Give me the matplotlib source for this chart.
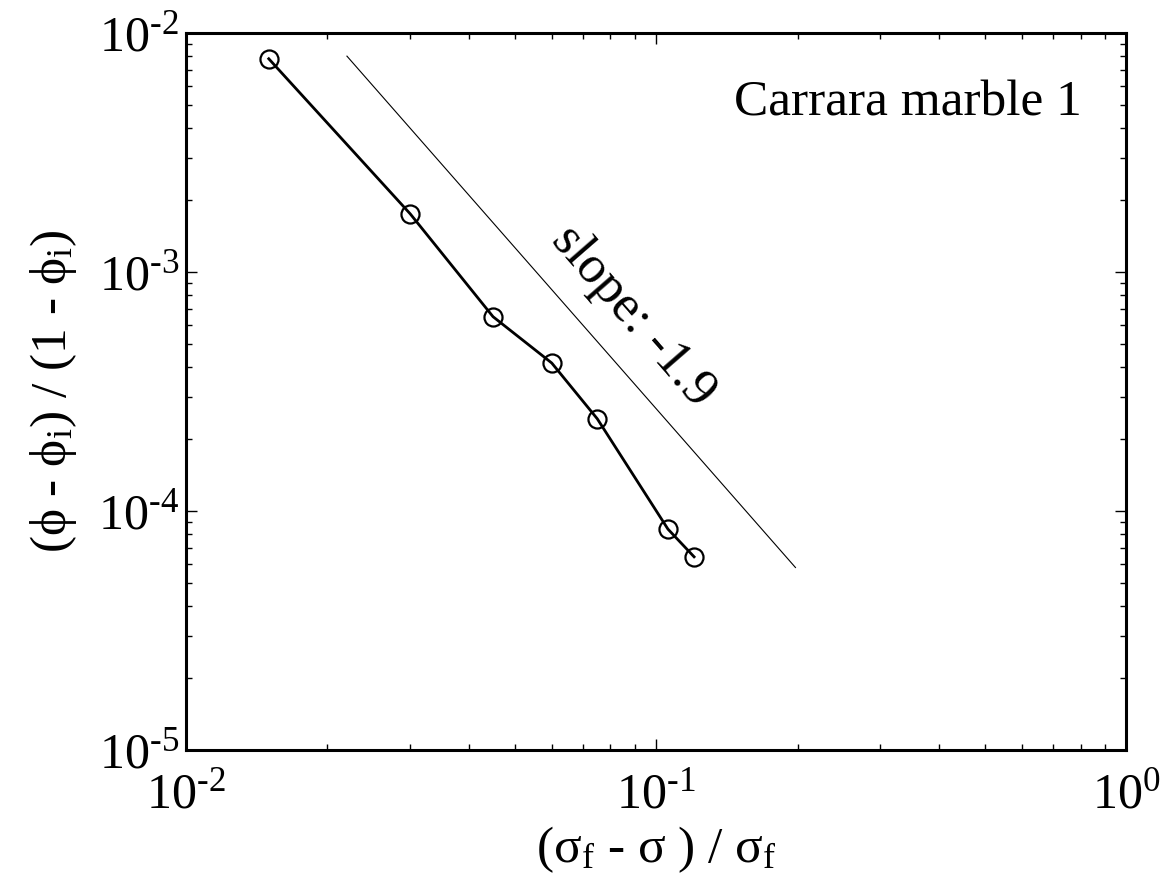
import numpy as np
import matplotlib
matplotlib.use("Agg")
import matplotlib.pyplot as plt
from matplotlib.ticker import FuncFormatter

plt.rcParams['font.family'] = ['Liberation Serif', 'DejaVu Serif']
plt.rcParams['mathtext.fontset'] = 'custom'
plt.rcParams['mathtext.rm'] = 'Liberation Serif'
plt.rcParams['mathtext.default'] = 'regular'
plt.rcParams['axes.unicode_minus'] = False

# measured points
strain = [0.015, 0.030, 0.045, 0.060, 0.075, 0.106, 0.1205]
porosity = [7.8e-3, 1.75e-3, 6.5e-4, 4.16e-4, 2.43e-4, 8.4e-5, 6.43e-5]

# reference slope line
ref_x = [0.022, 0.198]
ref_y = [8.0e-3, 5.8e-5]


def dec_label(v, pos):
    e = int(round(np.log10(v)))
    if e < 0:
        return '10$^{\u2010%d}$' % (-e)
    return '10$^{%d}$' % e


fig = plt.figure(figsize=(11.72, 8.84), dpi=100)
ax = fig.add_axes([0.1587, 0.1516, 0.8021, 0.8111])

ax.plot(strain, porosity, '-o', color='black', lw=2.0, ms=13,
        mfc='none', mew=1.6)
ax.plot(ref_x, ref_y, '-', color='black', lw=0.8)

ax.set_xscale('log')
ax.set_yscale('log')
ax.set_xlim(1e-2, 1e0)
ax.set_ylim(1e-5, 1e-2)
ax.xaxis.set_major_formatter(FuncFormatter(dec_label))
ax.yaxis.set_major_formatter(FuncFormatter(dec_label))

for s in ax.spines.values():
    s.set_linewidth(2.2)
ax.tick_params(which='both', direction='in', top=True, right=True,
               labelsize=36, width=1.0)
ax.tick_params(which='major', length=8)
ax.tick_params(which='minor', length=4)
ax.tick_params(axis='x', which='major', pad=16)
ax.tick_params(axis='y', which='major', pad=5)

ax.text(0.953, 0.902, 'Carrara marble 1', transform=ax.transAxes,
        ha='right', va='center', fontsize=37)
ax.text(0.0893, 6.55e-4, 'slope: -1.9', rotation=-49, ha='center',
        va='center', fontsize=38)

ax.set_xlabel('(σ$_{f}$ - σ ) / σ$_{f}$', fontsize=37, labelpad=4)
ax.set_ylabel('(ϕ - ϕ$_{i}$) / (1 - ϕ$_{i}$)', fontsize=37, labelpad=14)

fig.savefig('out.png', dpi=100, facecolor='white')
